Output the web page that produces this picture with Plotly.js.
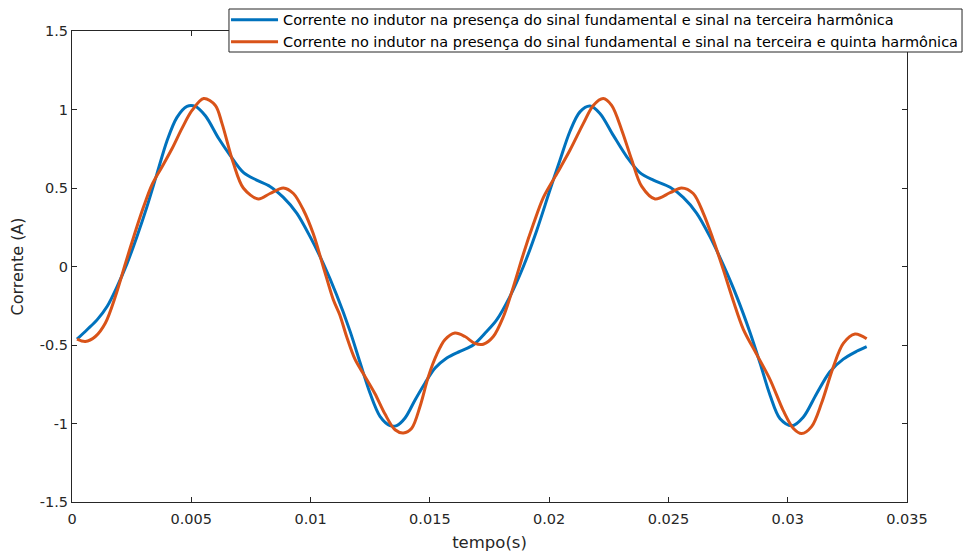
<!DOCTYPE html>
<html>
<head>
<meta charset="utf-8">
<script src="https://cdn.plot.ly/plotly-3.0.1.min.js"></script>
<style>html,body{margin:0;padding:0;background:#fff}#chart{width:963px;height:554px}</style>
</head>
<body>
<div id="chart"></div>
<script>
// time in milliseconds (converted to seconds below)
const tBlueMs = [0.21,0.63,1.05,1.47,1.89,2.31,2.72,3.14,3.56,3.98,4.40,4.82,5.17,5.59,6.15,6.62,7.18,7.74,8.30,8.86,9.42,9.98,10.53,11.09,11.65,12.07,12.49,12.91,13.33,13.61,13.96,14.38,14.80,15.22,15.71,16.26,16.82,17.38,17.80,18.36,18.92,19.48,20.04,20.46,20.87,21.29,21.71,22.13,22.69,23.25,23.79,24.37,25.07,25.62,26.18,26.74,27.30,27.86,28.42,28.84,29.26,29.68,30.17,30.65,31.21,31.77,32.33,32.89,33.31];
const iBlue = [-0.463,-0.403,-0.34,-0.255,-0.128,0.02,0.19,0.38,0.59,0.80,0.95,1.02,1.02,0.96,0.815,0.71,0.60,0.55,0.51,0.44,0.34,0.19,0.02,-0.18,-0.41,-0.61,-0.806,-0.954,-1.013,-1.013,-0.965,-0.85,-0.742,-0.647,-0.583,-0.54,-0.50,-0.414,-0.34,-0.19,0.0,0.23,0.49,0.68,0.86,0.985,1.022,0.975,0.835,0.70,0.60,0.55,0.505,0.44,0.34,0.19,0.01,-0.19,-0.42,-0.615,-0.82,-0.97,-1.015,-0.96,-0.81,-0.67,-0.59,-0.54,-0.51];
const tOrangeMs = [0.21,0.56,0.98,1.40,1.82,2.24,2.65,3.00,3.35,3.77,4.19,4.61,5.03,5.52,6.01,6.29,6.76,7.18,7.81,8.30,8.86,9.28,9.70,10.11,10.53,10.95,11.23,11.51,11.86,12.28,12.70,13.12,13.54,13.89,14.24,14.59,14.94,15.29,15.63,16.05,16.47,16.89,17.24,17.66,18.08,18.50,18.92,19.34,19.76,20.32,20.87,21.43,21.85,22.27,22.62,23.04,23.46,23.88,24.44,25.07,25.55,26.04,26.46,26.88,27.30,27.72,28.14,28.70,29.26,29.82,30.23,30.58,31.00,31.42,31.91,32.33,32.82,33.31];
const iOrange = [-0.463,-0.478,-0.446,-0.36,-0.19,0.02,0.22,0.38,0.52,0.634,0.75,0.88,0.994,1.07,1.026,0.91,0.66,0.50,0.43,0.465,0.50,0.465,0.36,0.21,0.0,-0.21,-0.31,-0.446,-0.59,-0.70,-0.81,-0.94,-1.04,-1.06,-1.03,-0.89,-0.70,-0.56,-0.467,-0.424,-0.446,-0.49,-0.495,-0.446,-0.32,-0.13,0.08,0.27,0.44,0.59,0.74,0.91,1.026,1.07,1.026,0.87,0.68,0.51,0.43,0.47,0.50,0.465,0.34,0.17,-0.02,-0.22,-0.40,-0.56,-0.72,-0.92,-1.03,-1.064,-1.02,-0.87,-0.64,-0.49,-0.43,-0.46];
const seriesNames = [
  'Corrente no indutor na presença do sinal fundamental e sinal na terceira harmônica',
  'Corrente no indutor na presença do sinal fundamental e sinal na terceira e quinta harmônica'
];
const xTickVals = [0,0.005,0.01,0.015,0.02,0.025,0.03,0.035];
const xTickText = ['0','0.005','0.01','0.015','0.02','0.025','0.03','0.035'];
const yTickVals = [-1.5,-1,-0.5,0,0.5,1,1.5];
const yTickText = ['-1.5','-1','-0.5','0','0.5','1','1.5'];

const toSec = a => a.map(v => v / 1000);
const FONT = 'DejaVu Sans, sans-serif';
const AX = '#262626';

const traces = [
  {x: toSec(tBlueMs), y: iBlue, name: seriesNames[0], type: 'scatter', mode: 'lines',
   line: {color: '#0072BD', width: 3, shape: 'spline', smoothing: 0.9}},
  {x: toSec(tOrangeMs), y: iOrange, name: seriesNames[1], type: 'scatter', mode: 'lines',
   line: {color: '#D95319', width: 3, shape: 'spline', smoothing: 0.9}}
];

const axisCommon = {
  showgrid: false, zeroline: false, showline: true, mirror: 'ticks',
  linecolor: AX, linewidth: 1, ticks: 'inside', ticklen: 5, tickwidth: 1, tickcolor: AX,
  tickfont: {family: FONT, size: 14.5, color: AX}
};

const layout = {
  width: 963, height: 554,
  margin: {l: 72, r: 56, t: 31, b: 52, autoexpand: false},
  paper_bgcolor: '#fff', plot_bgcolor: '#fff',
  showlegend: true,
  legend: {x: 1.0671, xanchor: 'right', y: 1.0576, yanchor: 'top',
    bgcolor: 'rgba(0,0,0,0)', borderwidth: 0,
    font: {family: FONT, size: 14.5, color: '#000'}, itemwidth: 47, tracegroupgap: 0},
  shapes: [
    {type: 'rect', xref: 'paper', yref: 'paper', x0: 0.188, x1: 1.0659, y0: 0.9554, y1: 1.0467,
     line: {color: AX, width: 1}, fillcolor: '#fff', layer: 'above'}
  ],
  xaxis: Object.assign({}, axisCommon, {range: [0, 0.035], tickvals: xTickVals, ticktext: xTickText,
    ticklabelstandoff: 4,
    title: {text: 'tempo(s)', font: {family: FONT, size: 16.5, color: AX}, standoff: 10}}),
  yaxis: Object.assign({}, axisCommon, {range: [-1.5, 1.5], tickvals: yTickVals, ticktext: yTickText,
    title: {text: 'Corrente (A)', font: {family: FONT, size: 16, color: AX}, standoff: 12}})
};

Plotly.newPlot('chart', traces, layout, {displayModeBar: false, staticPlot: true});
</script>
</body>
</html>
